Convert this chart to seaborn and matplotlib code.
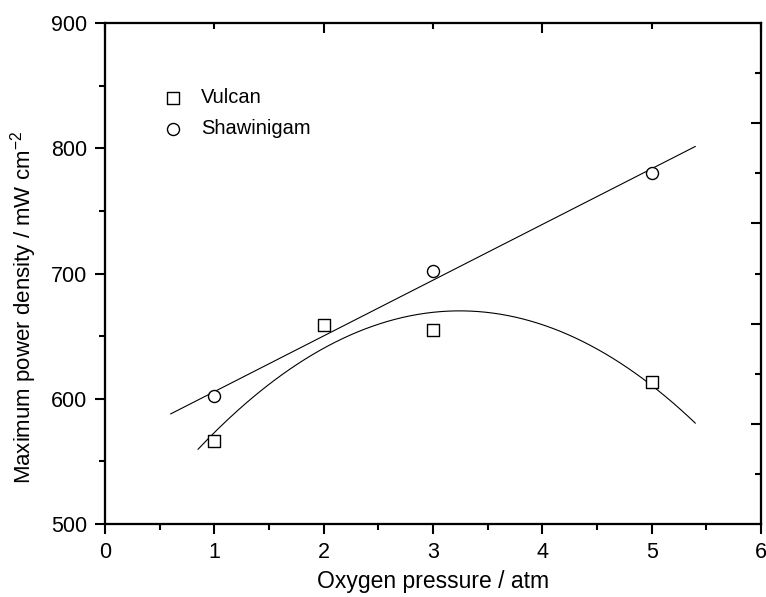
import numpy as np
import pandas as pd
import matplotlib
matplotlib.use("Agg")
import matplotlib.pyplot as plt
import seaborn as sns
from matplotlib.ticker import MultipleLocator, FixedLocator, NullFormatter

# Data
vulcan_x = [1, 2, 3, 5]
vulcan_y = [566, 659, 655, 613]
shaw_x = [1, 3, 5]
shaw_y = [602, 702, 780]
series_names = ["Vulcan", "Shawinigam"]
x_label = "Oxygen pressure / atm"
y_label = "Maximum power density / mW cm$^{-2}$"

sns.set_theme(style="ticks")
plt.rcParams["font.family"] = ["Liberation Sans", "DejaVu Sans"]
plt.rcParams["mathtext.default"] = "regular"
plt.rcParams["text.color"] = "black"
plt.rcParams["axes.labelcolor"] = "black"
plt.rcParams["xtick.color"] = "black"
plt.rcParams["ytick.color"] = "black"

fig = plt.figure(figsize=(7.66, 5.97), dpi=100)
ax = fig.add_axes([105/766, 1-524/597, (761-105)/766, (524-23)/597])

df_v = pd.DataFrame({"x": vulcan_x, "y": vulcan_y})
df_s = pd.DataFrame({"x": shaw_x, "y": shaw_y})

# fits
cv = np.polyfit(vulcan_x, vulcan_y, 2)
xv = np.linspace(0.85, 5.4, 200)
cs = np.polyfit(shaw_x, shaw_y, 1)
xs = np.linspace(0.6, 5.4, 200)
sns.lineplot(x=xv, y=np.polyval(cv, xv), ax=ax, color="black", lw=0.8)
sns.lineplot(x=xs, y=np.polyval(cs, xs), ax=ax, color="black", lw=0.8)

sns.scatterplot(data=df_v, x="x", y="y", ax=ax, marker="s", s=70,
                facecolor="white", edgecolor="black", linewidth=1.0,
                label=series_names[0], zorder=5)
sns.scatterplot(data=df_s, x="x", y="y", ax=ax, marker="o", s=75,
                facecolor="white", edgecolor="black", linewidth=1.0,
                label=series_names[1], zorder=5)

ax.set_xlim(0, 6)
ax.set_ylim(500, 900)
ax.xaxis.set_major_locator(MultipleLocator(1))
ax.xaxis.set_minor_locator(MultipleLocator(0.5))
ax.yaxis.set_major_locator(MultipleLocator(100))
ax.yaxis.set_minor_locator(MultipleLocator(50))
ax.tick_params(which="major", direction="out", length=7, width=1.5,
               labelsize=15.5, color="black", labelcolor="black", pad=6)
ax.tick_params(which="minor", direction="out", length=4, width=1.5, color="black")
ax.set_xlabel(x_label, fontsize=16.5, labelpad=5, color="black")
ax.set_ylabel(y_label, fontsize=16, color="black")
ax.yaxis.set_label_coords(-0.101, 0.433)
for sp in ax.spines.values():
    sp.set_linewidth(1.5)
    sp.set_color("black")
    sp.set_visible(True)

# top axis ticks (inward)
axt = ax.twiny()
axt.set_xlim(0, 6)
axt.xaxis.set_major_locator(FixedLocator([0, 2, 4, 6]))
axt.xaxis.set_minor_locator(FixedLocator([1, 3, 5]))
axt.xaxis.set_major_formatter(NullFormatter())
axt.tick_params(axis="x", which="major", direction="in", length=7, width=1.5)
axt.tick_params(axis="x", which="minor", direction="in", length=4, width=1.5)
# right axis ticks (inward)
axr = ax.twinx()
axr.set_ylim(500, 900)
axr.yaxis.set_major_locator(FixedLocator([580, 660, 740, 820]))
axr.yaxis.set_minor_locator(FixedLocator([540, 620, 700, 780, 860]))
axr.yaxis.set_major_formatter(NullFormatter())
axr.tick_params(axis="y", which="major", direction="in", length=7, width=1.5)
axr.tick_params(axis="y", which="minor", direction="in", length=4, width=1.5)
for a in (axt, axr):
    for sp in a.spines.values():
        sp.set_linewidth(1.5)
        sp.set_color("black")

leg = ax.legend(loc="upper left", bbox_to_anchor=(0.06, 0.886), frameon=False,
                fontsize=14.5, handletextpad=0.4, labelspacing=0.6,
                borderaxespad=0)
for t in leg.get_texts():
    t.set_color("black")

fig.savefig("out.png", dpi=100)
